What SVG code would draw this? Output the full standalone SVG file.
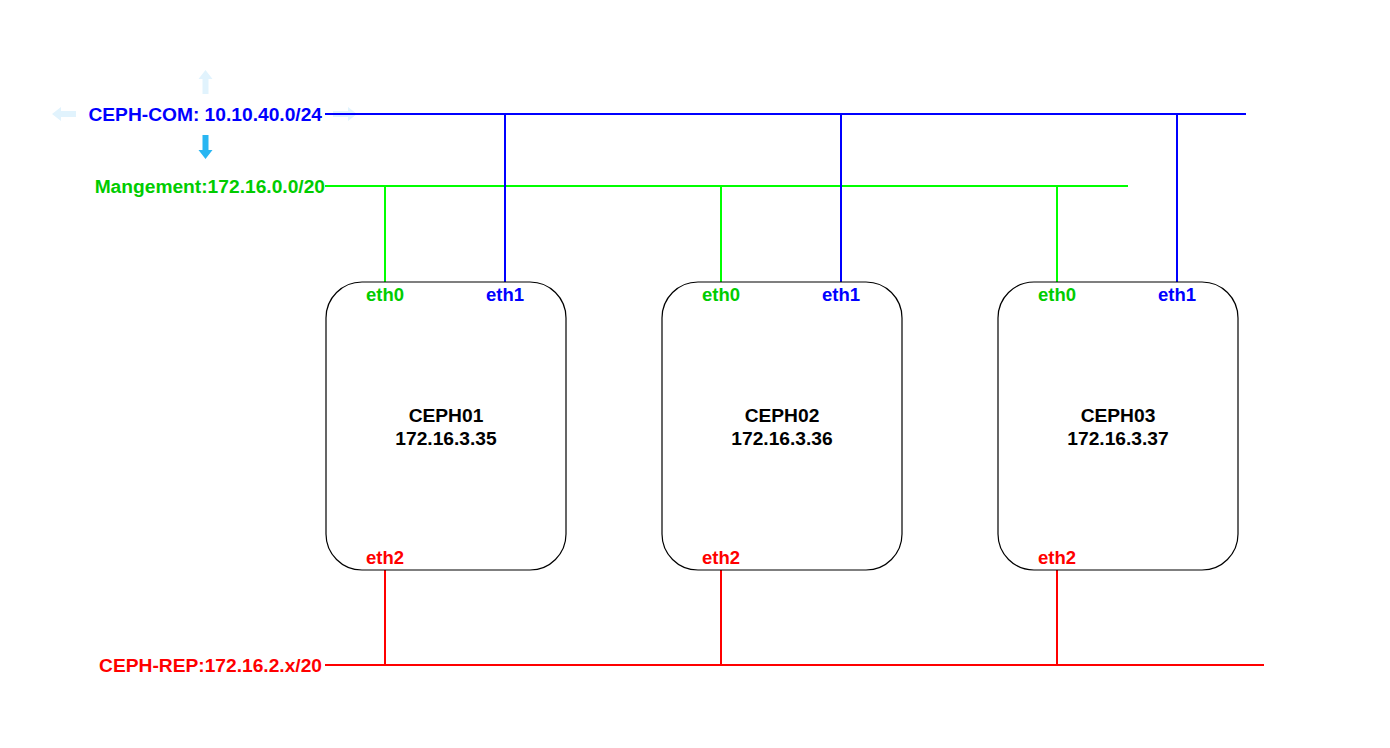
<svg xmlns="http://www.w3.org/2000/svg" width="1390" height="748" viewBox="0 0 1390 748">
<style>
text{font-family:"Liberation Sans",Arial,sans-serif;font-weight:bold;font-size:19.2px}
.eth{font-size:18.5px}
.box{fill:#fff;stroke:#000;stroke-width:1.2}
.b{stroke:#0000FF;stroke-width:2;fill:none}
.g{stroke:#00FF00;stroke-width:2;fill:none}
.r{stroke:#FF0000;stroke-width:2;fill:none}
.tb{fill:#0000FF}
.tg{fill:#00CC00}
.tr{fill:#FF0000}
.tk{fill:#000;text-anchor:middle}
.mid{text-anchor:middle}
.end{text-anchor:end}
.hint{fill:#E1F3FD}
</style>
<defs>
<path id="arr" d="M-3,0 L-3,-15 L-7,-15 L0,-24 L7,-15 L3,-15 L3,0 Z"/>
</defs>
<rect width="1390" height="748" fill="#fff"/>
<g id="hover-arrows">
<use href="#arr" x="205.5" y="94" class="hint"/>
<use href="#arr" transform="translate(205.5,135) rotate(180)" fill="#29B6F2"/>
<use href="#arr" transform="translate(76,114) rotate(-90)" class="hint"/>
<use href="#arr" transform="translate(333,114) rotate(90)" class="hint"/>
</g>
<g id="connectors">
<line class="b" x1="325" y1="114" x2="1246" y2="114"/>
<line class="g" x1="325" y1="186" x2="1128" y2="186"/>
<line class="r" x1="325" y1="665" x2="1264" y2="665"/>
<line class="g" x1="385" y1="186" x2="385" y2="282"/>
<line class="b" x1="505" y1="114" x2="505" y2="282"/>
<line class="g" x1="721" y1="186" x2="721" y2="282"/>
<line class="b" x1="841" y1="114" x2="841" y2="282"/>
<line class="g" x1="1057" y1="186" x2="1057" y2="282"/>
<line class="b" x1="1177" y1="114" x2="1177" y2="282"/>
<line class="r" x1="385" y1="570" x2="385" y2="665"/>
<line class="r" x1="721" y1="570" x2="721" y2="665"/>
<line class="r" x1="1057" y1="570" x2="1057" y2="665"/>
</g>
<g id="net-labels">
<text class="tb end" x="322" y="121">CEPH-COM: 10.10.40.0/24</text>
<text class="tg end" x="325" y="193">Mangement:172.16.0.0/20</text>
<text class="tr end" x="322" y="672">CEPH-REP:172.16.2.x/20</text>
</g>
<g id="ceph01">
<rect class="box" x="326" y="282" width="240" height="288" rx="36" ry="36"/>
<text class="tg mid eth" x="385" y="301">eth0</text>
<text class="tb mid eth" x="505" y="301">eth1</text>
<text class="tr mid eth" x="385" y="564">eth2</text>
<text class="tk" x="446" y="422">CEPH01</text>
<text class="tk" x="446" y="445">172.16.3.35</text>
</g>
<g id="ceph02">
<rect class="box" x="662" y="282" width="240" height="288" rx="36" ry="36"/>
<text class="tg mid eth" x="721" y="301">eth0</text>
<text class="tb mid eth" x="841" y="301">eth1</text>
<text class="tr mid eth" x="721" y="564">eth2</text>
<text class="tk" x="782" y="422">CEPH02</text>
<text class="tk" x="782" y="445">172.16.3.36</text>
</g>
<g id="ceph03">
<rect class="box" x="998" y="282" width="240" height="288" rx="36" ry="36"/>
<text class="tg mid eth" x="1057" y="301">eth0</text>
<text class="tb mid eth" x="1177" y="301">eth1</text>
<text class="tr mid eth" x="1057" y="564">eth2</text>
<text class="tk" x="1118" y="422">CEPH03</text>
<text class="tk" x="1118" y="445">172.16.3.37</text>
</g>
</svg>
